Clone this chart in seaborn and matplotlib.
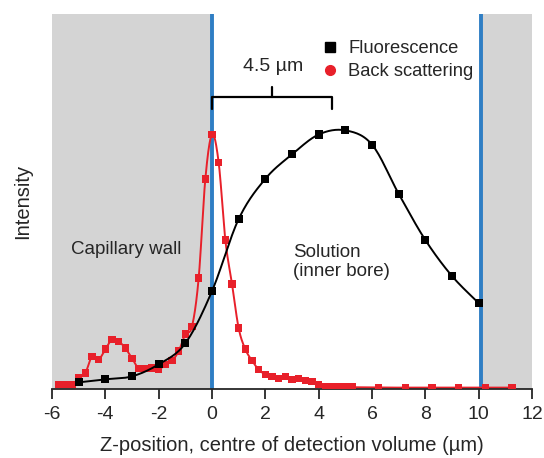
"""
Confocal z-scan across a capillary wall: fluorescence vs back scattering.
"""
import matplotlib
matplotlib.use("Agg")
import matplotlib.pyplot as plt
import numpy as np
import seaborn as sns
from matplotlib.lines import Line2D

sns.set_theme(style="ticks")
plt.rcParams["font.family"] = ["Liberation Sans", "DejaVu Sans"]

_BLACK = "#000000"
_RED = "#e8202a"
_BLUE = "#2f7ec4"
_GRAY = "#d4d4d4"

# --------------------------------------------------------------------------- #
# data (intensity in arbitrary units)
# --------------------------------------------------------------------------- #
fluo_z = [-5, -4, -3, -2, -1, 0, 1, 2, 3, 4, 5, 6, 7, 8, 9, 10]
fluo_i = [1.9, 2.7, 3.5, 6.7, 12.3, 26.2, 45.4, 56.1, 62.6, 67.9, 69.0,
          65.2, 52.1, 39.8, 30.2, 23.0]

back_z = [-5.75, -5.5, -5.25, -5.0, -4.75, -4.5, -4.25, -4.0, -3.75, -3.5,
          -3.25, -3.0, -2.75, -2.5, -2.25, -2.0, -1.75, -1.5, -1.25, -1.0,
          -0.75, -0.5, -0.25, 0.0, 0.25, 0.5, 0.75, 1.0, 1.25, 1.5, 1.75,
          2.0, 2.25, 2.5, 2.75, 3.0, 3.25, 3.5, 3.75, 4.0, 4.25, 4.5, 4.75,
          5.0, 5.25, 6.25, 7.25, 8.25, 9.25, 10.25, 11.25]
back_i = [1.3, 1.3, 1.3, 3.0, 4.4, 8.8, 8.0, 10.7, 13.3, 12.8,
          11.0, 8.3, 5.6, 5.6, 5.8, 5.3, 6.7, 7.7, 10.2, 14.7,
          16.8, 29.7, 56.1, 67.9, 60.4, 39.8, 28.1, 16.3, 10.7, 7.7, 5.3,
          4.0, 3.5, 2.9, 3.5, 2.7, 2.9, 2.4, 2.1, 1.3, 0.8, 0.6, 0.6,
          0.6, 0.6, 0.5, 0.5, 0.5, 0.5, 0.5, 0.5]

wall_left = (-6, 0)
wall_right = (10.1, 12)
x_ticks = [-6, -4, -2, 0, 2, 4, 6, 8, 10, 12]


def _curve(x, y, per=16):
    """Catmull-Rom path through the points, used only to draw the line."""
    p = np.column_stack([x, y]).astype(float)
    p = np.vstack([p[0], p, p[-1]])
    t = np.linspace(0, 1, per, endpoint=False)[:, None]
    out = []
    for i in range(1, len(p) - 2):
        p0, p1, p2, p3 = p[i - 1], p[i], p[i + 1], p[i + 2]
        out.append(0.5 * (2 * p1 + (-p0 + p2) * t
                          + (2 * p0 - 5 * p1 + 4 * p2 - p3) * t ** 2
                          + (-p0 + 3 * p1 - 3 * p2 + p3) * t ** 3))
    out.append(p[-2][None, :])
    out = np.vstack(out)
    return out[:, 0], out[:, 1]


fig = plt.figure(figsize=(5.44, 4.58), dpi=100)
ax = fig.add_axes([0.0956, 0.1496, 0.8824, 0.8199])

# capillary wall shading and boundaries
ax.axvspan(*wall_left, color=_GRAY, lw=0, zorder=0)
ax.axvspan(*wall_right, color=_GRAY, lw=0, zorder=0)
for xb in (wall_left[1], wall_right[0]):
    ax.axvline(xb, color=_BLUE, lw=2.8, zorder=1)

cx, cy = _curve(back_z, back_i)
sns.lineplot(x=cx, y=cy, sort=False, estimator=None, color=_RED, lw=1.4,
             ax=ax, zorder=2)
sns.scatterplot(x=back_z, y=back_i, marker="s", s=30, color=_RED,
                edgecolor="none", ax=ax, zorder=3)

cx, cy = _curve(fluo_z, fluo_i)
sns.lineplot(x=cx, y=cy, sort=False, estimator=None, color=_BLACK, lw=1.4,
             ax=ax, zorder=4)
sns.scatterplot(x=fluo_z, y=fluo_i, marker="s", s=34, color=_BLACK,
                edgecolor="none", ax=ax, zorder=5)

# 4.5 um bracket
ax.plot([0, 0, 4.5, 4.5], [74.8, 77.8, 77.8, 74.8], color="black", lw=1.6,
        solid_joinstyle="round", zorder=6)
ax.plot([2.25, 2.25], [77.8, 80.6], color="black", lw=1.6, zorder=6)
ax.text(2.3, 86, "4.5 \u00b5m", ha="center", va="center", fontsize=14)

ax.text(-5.3, 37.2, "Capillary wall", ha="left", va="center", fontsize=13.5)
ax.text(3.05, 34, "Solution\n(inner bore)", ha="left", va="center",
        fontsize=13.5, linespacing=1.2)

handles = [
    Line2D([], [], ls="none", marker="s", ms=6.5, color=_BLACK,
           label="Fluorescence"),
    Line2D([], [], ls="none", marker="o", ms=7, color=_RED,
           label="Back scattering"),
]
ax.legend(handles=handles, loc="upper left", bbox_to_anchor=(0.545, 0.95),
          frameon=False, fontsize=13.2, handlelength=1.0, handletextpad=0.5,
          labelspacing=0.34, borderaxespad=0)

ax.set_xlim(-6, 12)
ax.set_ylim(0, 100)
ax.set_xticks(x_ticks)
ax.set_xticklabels([str(v) for v in x_ticks], fontsize=14)
ax.set_yticks([])
ax.tick_params(axis="x", direction="out", length=7, width=1.3, pad=5)
ax.set_xlabel("Z-position, centre of detection volume (\u00b5m)",
              fontsize=14.5, labelpad=9)
ax.set_ylabel("Intensity", fontsize=14.5, labelpad=14)
for side in ("left", "top", "right"):
    ax.spines[side].set_visible(False)
ax.spines["bottom"].set_linewidth(1.3)

fig.savefig("out.png", dpi=100)
plt.close(fig)
